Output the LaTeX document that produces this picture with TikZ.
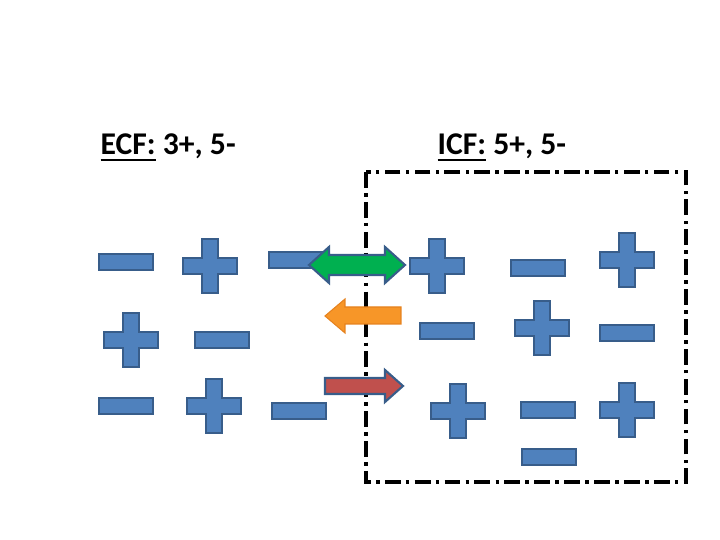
\documentclass[tikz,border=0pt]{standalone}
\usepackage{fontspec}
\setmainfont{Carlito}
\begin{document}
\begin{tikzpicture}[x=0.01cm,y=-0.01cm,
  ion/.style={fill={rgb,255:red,79;green,129;blue,189},draw={rgb,255:red,56;green,93;blue,138},line width=0.6pt},
  lbl/.style={font=\bfseries\fontsize{9}{11}\selectfont,anchor=base west,inner sep=0}]
\useasboundingbox (0,0) rectangle (720,540);
\newcommand\mn[2]{\draw[ion] (#1-27,#2-8) rectangle (#1+27,#2+8);}
\newcommand\pl[2]{\draw[ion] (#1-8,#2-27) -- (#1+8,#2-27) -- (#1+8,#2-8) -- (#1+27,#2-8) -- (#1+27,#2+8) -- (#1+8,#2+8) -- (#1+8,#2+27) -- (#1-8,#2+27) -- (#1-8,#2+8) -- (#1-27,#2+8) -- (#1-27,#2-8) -- (#1-8,#2-8) -- cycle;}
\node[lbl] (ecf) at (100,155) {\underline{ECF:} 3+, 5-};
\node[lbl] (icf) at (437,155) {\underline{ICF:} 5+, 5-};
\draw[line width=0.9pt,dash pattern=on 4.5pt off 1.5pt on 1pt off 1.5pt] (366,172) rectangle (686,482);
\mn{126}{262}\mn{296}{260}\mn{222}{340}\mn{126}{406}\mn{299}{411}
\mn{538}{268}\mn{447}{331}\mn{627}{333}\mn{548}{410}\mn{549}{457}
\pl{210}{266}\pl{131}{340}\pl{214}{406}\pl{437}{266}\pl{627}{260}
\pl{542}{328}\pl{458}{411}\pl{627}{410}
\draw[fill={rgb,255:red,0;green,176;blue,80},draw={rgb,255:red,56;green,93;blue,138},line width=0.6pt]
  (309,265) -- (329,247) -- (329,255) -- (385,255) -- (385,247) -- (405,265) -- (385,283) -- (385,275) -- (329,275) -- (329,283) -- cycle;
\draw[fill={rgb,255:red,247;green,150;blue,40},draw={rgb,255:red,230;green,130;blue,30},line width=0.3pt]
  (325,316) -- (345,299) -- (345,307) -- (401,307) -- (401,324) -- (345,324) -- (345,333) -- cycle;
\draw[fill={rgb,255:red,192;green,80;blue,77},draw={rgb,255:red,56;green,93;blue,138},line width=0.6pt]
  (403,386) -- (385,370) -- (385,378) -- (325,378) -- (325,394) -- (385,394) -- (385,402) -- cycle;
\end{tikzpicture}
\end{document}
